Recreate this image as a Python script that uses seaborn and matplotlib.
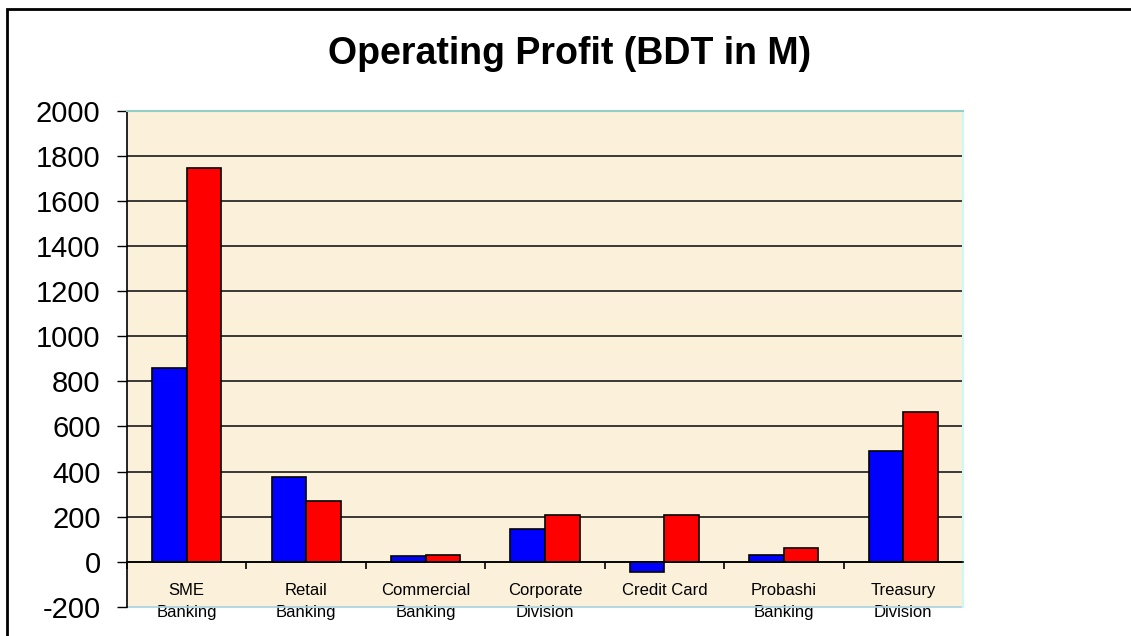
import numpy as np
import pandas as pd
import matplotlib
matplotlib.use("Agg")
import matplotlib.pyplot as plt
from matplotlib.patches import Rectangle
import seaborn as sns

# ---- data ----
categories = ["SME\nBanking", "Retail\nBanking", "Commercial\nBanking", "Corporate\nDivision",
              "Credit Card", "Probashi\nBanking", "Treasury\nDivision"]
series_names = ["Series 1", "Series 2"]
series1_values = [858, 374, 24, 147, -44, 31, 492]
series2_values = [1745, 268, 31, 207, 208, 62, 662]
y_ticks = list(range(-200, 2001, 200))
title_text = "Operating Profit (BDT in M)"

df = pd.DataFrame({
    "Division": categories * 2,
    "Series": [series_names[0]] * len(categories) + [series_names[1]] * len(categories),
    "Profit": series1_values + series2_values,
})

sns.set_theme(style="white")
plt.rcParams["font.family"] = ["Liberation Sans", "DejaVu Sans"]
plt.rcParams["axes.unicode_minus"] = False

W, H = 1131, 636
fig = plt.figure(figsize=(W / 100, H / 100), dpi=100)
fig.patch.set_facecolor("white")
ax = fig.add_axes([127 / W, 1 - 607 / H, (963 - 127) / W, (607 - 110.5) / H])
ax.set_facecolor("#FBF0DA")

sns.barplot(data=df, x="Division", y="Profit", hue="Series", order=categories,
            palette=["#0000FF", "#FF0000"], width=0.58, gap=0,
            edgecolor="black", linewidth=1.2, saturation=1, ax=ax, legend=False)

ax.set_ylim(-200, 2000)
ax.set_yticks(y_ticks)
ax.set_xlim(-0.5, len(categories) - 0.5)
ax.set_xlabel("")
ax.set_ylabel("")

# grid lines
ax.set_axisbelow(True)
ax.grid(axis="y", color="#1a1a1a", linewidth=1.2)
ax.grid(axis="x", visible=False)
glines = ax.yaxis.get_gridlines()
glines[0].set_color("#A9D2E2")
glines[0].set_clip_on(False)
glines[-1].set_visible(False)

# spines
ax.spines["bottom"].set_position(("data", 0))
ax.spines["bottom"].set_color("black")
ax.spines["bottom"].set_linewidth(1.2)
ax.spines["left"].set_color("black")
ax.spines["left"].set_linewidth(1.2)
ax.spines["top"].set_color("#93CFC6")
ax.spines["top"].set_linewidth(1.5)
ax.spines["right"].set_color("#CFF7F7")
ax.spines["right"].set_linewidth(1.5)

# ticks
ax.set_xticks(np.arange(-0.5, len(categories), 1.0), minor=True)
ax.tick_params(axis="x", which="major", length=0, pad=15.5, labelsize=12, labelcolor="black")
ax.tick_params(axis="x", which="minor", length=5, width=1.2, color="black", direction="out", bottom=True)
ax.tick_params(axis="y", which="major", length=7, width=1.0, color="black", pad=12,
               labelsize=21, labelcolor="black", left=True)
for lab in ax.get_xticklabels():
    lab.set_linespacing(1.55)

# title
fig.text(570 / W, 1 - 54 / H, title_text, ha="center", va="center",
         fontsize=27, fontweight="bold", color="black")

# outer frame (partially cut off at right/bottom like the reference)
frame = Rectangle((7 / W, -0.5), 2.0, 1 - 9 / H + 0.5, transform=fig.transFigure,
                  fill=False, edgecolor="black", linewidth=2, clip_on=False)
fig.patches.append(frame)

fig.savefig("out.png", dpi=100)
